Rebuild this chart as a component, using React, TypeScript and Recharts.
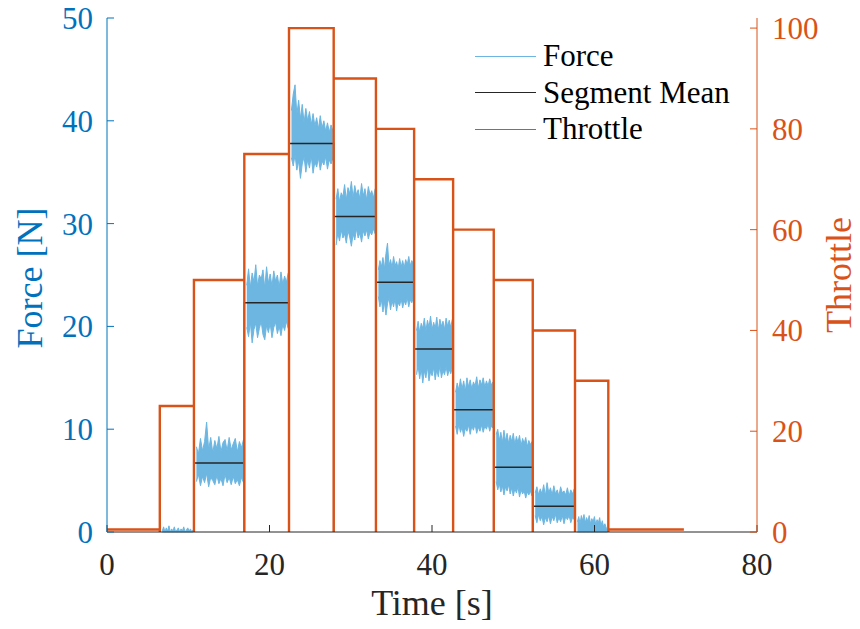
import React from 'react'
import { ComposedChart, Line, Area, XAxis, YAxis } from 'recharts'

// segment timing (s) and commanded throttle per segment
const SEG_START = [6.5, 10.7, 16.9, 22.4, 27.9, 33.1, 37.8, 42.6, 47.6, 52.4, 57.6]
const SEG_END = [10.7, 16.9, 22.4, 27.9, 33.1, 37.8, 42.6, 47.6, 52.4, 57.6, 61.7]
const THROTTLE = [25, 50, 75, 100, 90, 80, 70, 60, 50, 40, 30]
const SEG_MEAN = [null, 6.7, 22.3, 37.8, 30.7, 24.3, 17.8, 11.9, 6.3, 2.5, null]
const IDLE_THROTTLE = 0.5
const IDLE_END = 71

// force envelope (upper / lower edge of the noisy signal) per segment
const FORCE_HI = [
  [0.1, 0.5, 0.0, 0.4, 0.1, 0.6, 0.0, 0.3, 0.1, 0.5, 0.0, 0.2, 0.4, 0.0, 0.3, 0.1, 0.5, 0.0, 0.2, 0.4, 0.1, 0.3, 0.0, 0.2],
  [8.3, 7.6, 9.1, 7.9, 8.8, 10.7, 8.0, 9.2, 7.7, 8.9, 8.1, 9.3, 7.8, 8.7, 9.0, 7.9, 9.2, 8.0, 8.6, 9.1, 7.8, 8.8, 8.2, 9.0],
  [24.0, 25.6, 23.8, 25.2, 24.3, 26.0, 23.9, 25.0, 24.6, 25.5, 23.7, 25.8, 24.2, 25.1, 23.9, 25.4, 24.4, 25.0, 23.8, 25.3, 24.1, 24.9, 24.3, 25.2],
  [41.0, 42.6, 43.5, 40.6, 42.0, 40.2, 41.6, 39.8, 41.2, 40.0, 40.9, 39.6, 40.7, 39.5, 40.3, 39.2, 40.5, 39.3, 40.0, 39.0, 39.8, 38.9, 39.6, 39.0],
  [32.4, 33.4, 32.1, 33.0, 32.6, 33.8, 32.3, 33.5, 32.9, 34.1, 32.5, 33.7, 32.8, 33.3, 32.4, 33.9, 32.7, 33.4, 32.3, 33.6, 32.8, 33.2, 32.5, 33.4],
  [25.5, 26.4, 25.8, 26.7, 25.6, 27.1, 28.1, 25.9, 26.5, 25.7, 26.8, 25.9, 26.3, 25.6, 26.6, 25.8, 26.4, 25.7, 26.5, 26.0, 26.8, 25.9, 26.4, 26.1],
  [19.6, 20.5, 19.4, 20.3, 19.8, 20.8, 19.5, 20.6, 19.9, 21.0, 19.7, 20.4, 19.8, 20.9, 19.6, 20.7, 20.0, 20.5, 19.7, 20.8, 20.0, 20.6, 19.9, 20.7],
  [13.6, 14.5, 13.8, 14.9, 13.9, 14.7, 13.7, 15.0, 14.1, 14.8, 13.9, 14.6, 14.2, 15.1, 14.0, 14.8, 14.3, 15.0, 14.1, 14.7, 14.2, 14.9, 14.3, 14.6],
  [9.5, 10.0, 8.9, 9.7, 8.7, 9.9, 8.8, 9.6, 8.6, 9.4, 8.8, 9.6, 8.5, 9.3, 8.7, 9.4, 8.4, 9.1, 8.6, 9.2, 8.3, 8.9, 8.5, 8.8],
  [3.8, 4.4, 3.6, 4.2, 3.7, 4.6, 3.5, 4.8, 3.8, 4.3, 3.6, 4.5, 3.7, 4.1, 3.5, 4.4, 3.8, 4.0, 3.6, 4.3, 3.5, 4.1, 3.7, 4.2],
  [1.0, 1.5, 0.8, 1.6, 1.1, 1.7, 0.9, 1.4, 1.0, 1.6, 0.8, 1.3, 1.0, 1.5, 0.7, 1.2, 0.9, 1.4, 0.6, 1.1, 0.5, 0.8, 0.4, 0.3],
]
const FORCE_LO = [
  [0, 0, 0, 0, 0, 0, 0, 0, 0, 0, 0, 0, 0, 0, 0, 0, 0, 0, 0, 0, 0, 0, 0, 0],
  [4.9, 5.6, 4.5, 5.4, 4.8, 5.7, 4.4, 5.3, 5.0, 4.6, 5.5, 4.7, 5.2, 4.5, 5.6, 4.8, 5.3, 4.6, 5.4, 4.7, 5.1, 4.5, 5.3, 4.8],
  [19.9, 19.0, 20.4, 18.4, 19.7, 20.3, 18.9, 19.8, 20.5, 19.2, 18.7, 20.1, 19.4, 20.3, 18.9, 19.9, 20.4, 19.3, 20.0, 19.1, 20.2, 19.6, 20.5, 19.8],
  [36.4, 35.6, 36.7, 35.2, 36.1, 34.4, 35.8, 36.5, 35.0, 36.2, 35.4, 36.6, 34.9, 36.0, 35.5, 36.4, 35.2, 36.1, 35.7, 36.5, 35.3, 36.2, 35.8, 36.4],
  [27.9, 29.1, 28.3, 29.4, 28.6, 29.0, 28.1, 29.3, 28.7, 27.8, 29.0, 28.4, 29.5, 28.6, 29.1, 28.2, 29.3, 28.8, 29.4, 28.5, 29.2, 28.9, 29.5, 29.0],
  [22.9, 21.9, 22.6, 21.4, 22.4, 21.1, 22.2, 22.8, 21.6, 22.5, 21.9, 22.7, 21.5, 22.3, 22.0, 22.7, 21.8, 22.5, 22.1, 22.8, 21.9, 22.6, 22.3, 22.8],
  [15.3, 16.2, 14.9, 15.9, 14.5, 15.7, 15.0, 16.1, 14.7, 15.6, 15.2, 16.0, 14.8, 15.8, 15.1, 16.2, 15.0, 15.7, 15.3, 16.1, 15.2, 15.8, 15.4, 16.0],
  [10.3, 9.5, 10.5, 9.7, 10.2, 9.3, 10.1, 9.8, 10.4, 9.5, 10.3, 9.9, 10.5, 9.6, 10.2, 9.8, 10.4, 9.7, 10.3, 10.0, 10.5, 9.8, 10.3, 10.1],
  [4.9, 4.1, 4.7, 3.9, 4.5, 3.6, 4.4, 4.0, 4.6, 3.7, 4.3, 3.5, 4.2, 3.8, 4.4, 3.4, 4.1, 3.7, 4.0, 3.3, 3.9, 3.6, 4.0, 3.5],
  [1.6, 0.9, 1.7, 1.1, 1.5, 0.7, 1.4, 1.0, 1.6, 0.8, 1.5, 1.1, 1.7, 0.9, 1.4, 1.0, 1.6, 0.8, 1.5, 1.2, 1.6, 0.9, 1.4, 1.2],
  [0, 0, 0, 0, 0, 0, 0, 0, 0, 0, 0, 0, 0, 0, 0, 0, 0, 0, 0, 0, 0, 0, 0, 0],
]

const TIME_TICKS = [0, 20, 40, 60, 80]
const FORCE_TICKS = [0, 10, 20, 30, 40, 50]
const THROTTLE_TICKS = [0, 20, 40, 60, 80, 100]
const THROTTLE_MAX = 102

const BLUE = '#0072BD'
const FORCE_COLOR = '#6CB6E1'
const ORANGE = '#D95319'
const MEAN_COLOR = '#262626'
const FONT = 'Liberation Serif, Times New Roman, serif'

const LEGEND = [
  { name: 'Force', color: FORCE_COLOR },
  { name: 'Segment Mean', color: MEAN_COLOR },
  { name: 'Throttle', color: ORANGE },
]

// build series
const forceSegments = FORCE_HI.map((hi, s) => {
  const t0 = SEG_START[s] + 0.3
  const t1 = SEG_END[s] - 0.1
  return hi.map((h, i) => ({
    t: t0 + ((t1 - t0) * i) / (hi.length - 1),
    range: [FORCE_LO[s][i], h],
  }))
})

const throttleData: { t: number; v: number }[] = [
  { t: 0, v: IDLE_THROTTLE },
  { t: SEG_START[0], v: IDLE_THROTTLE },
]
SEG_START.forEach((s, i) => {
  throttleData.push({ t: s, v: 0 }, { t: s, v: THROTTLE[i] }, { t: SEG_END[i], v: THROTTLE[i] }, { t: SEG_END[i], v: 0 })
})
throttleData.push({ t: SEG_END[SEG_END.length - 1], v: IDLE_THROTTLE }, { t: IDLE_END, v: IDLE_THROTTLE })

const meanData: { t: number; v: number }[] = []
SEG_MEAN.forEach((m, i) => {
  if (m == null) return
  meanData.push({ t: SEG_START[i], v: 0 }, { t: SEG_START[i], v: m }, { t: SEG_END[i], v: m }, { t: SEG_END[i], v: 0 })
})

function LegendBox() {
  return (
    <div
      style={{
        position: 'absolute',
        left: 475,
        top: 38,
        fontFamily: FONT,
        fontSize: 31,
        lineHeight: '36.5px',
        color: '#000',
      }}
    >
      {LEGEND.map((e) => (
        <div key={e.name} style={{ display: 'flex', alignItems: 'center' }}>
          <span style={{ width: 61, borderTop: `1.5px solid ${e.color}`, marginRight: 7 }} />
          {e.name}
        </div>
      ))}
    </div>
  )
}

export default function App() {
  return (
    <div style={{ position: 'absolute', left: 0, top: 0, width: 860, height: 629, background: '#fff' }}>
      <ComposedChart width={860} height={629} margin={{ top: 18, right: 0, bottom: 0, left: 0 }}>
        <XAxis
          type="number"
          dataKey="t"
          domain={[0, 80]}
          ticks={TIME_TICKS}
          height={97}
          allowDuplicatedCategory={false}
          stroke="#262626"
          tickSize={-7}
          tickMargin={28}
          tick={{ fontSize: 31, fill: '#262626', fontFamily: FONT }}
          label={{
            content: ({ viewBox }: any) => (
              <text x={viewBox.x + viewBox.width / 2} y={viewBox.y + 83} textAnchor="middle" fontSize={36} fontFamily={FONT} fill="#262626">
                Time [s]
              </text>
            ),
          }}
        />
        <YAxis
          yAxisId="force"
          orientation="left"
          width={107}
          domain={[0, 50]}
          ticks={FORCE_TICKS}
          stroke={BLUE}
          tickSize={-7}
          tickMargin={21}
          tick={{ fontSize: 31, fill: BLUE, fontFamily: FONT }}
          label={{
            content: ({ viewBox }: any) => {
              const x = viewBox.x + 42
              const y = viewBox.y + viewBox.height / 2 + 3
              return (
                <text x={x} y={y} transform={`rotate(-90 ${x} ${y})`} textAnchor="middle" fontSize={36} fontFamily={FONT} fill={BLUE}>
                  Force [N]
                </text>
              )
            },
          }}
        />
        <YAxis
          yAxisId="throttle"
          orientation="right"
          width={103}
          domain={[0, THROTTLE_MAX]}
          ticks={THROTTLE_TICKS}
          stroke={ORANGE}
          tickSize={-7}
          tickMargin={22}
          tick={{ fontSize: 31, fill: ORANGE, fontFamily: FONT }}
          label={{
            content: ({ viewBox }: any) => {
              const x = viewBox.x + 94
              const y = viewBox.y + viewBox.height / 2
              return (
                <text x={x} y={y} transform={`rotate(-90 ${x} ${y})`} textAnchor="middle" fontSize={36} fontFamily={FONT} fill={ORANGE}>
                  Throttle
                </text>
              )
            },
          }}
        />
        {forceSegments.map((seg, i) => (
          <Area
            key={`force-${i}`}
            yAxisId="force"
            data={seg}
            dataKey="range"
            type="linear"
            stroke={FORCE_COLOR}
            strokeWidth={1}
            fill={FORCE_COLOR}
            fillOpacity={1}
            dot={false}
            activeDot={false}
            isAnimationActive={false}
          />
        ))}
        <Line
          yAxisId="force"
          data={meanData}
          dataKey="v"
          type="linear"
          stroke={MEAN_COLOR}
          strokeWidth={1.5}
          dot={false}
          activeDot={false}
          isAnimationActive={false}
        />
        <Line
          yAxisId="throttle"
          data={throttleData}
          dataKey="v"
          type="linear"
          stroke={ORANGE}
          strokeWidth={2.4}
          dot={false}
          activeDot={false}
          isAnimationActive={false}
        />
      </ComposedChart>
      <LegendBox />
    </div>
  )
}
